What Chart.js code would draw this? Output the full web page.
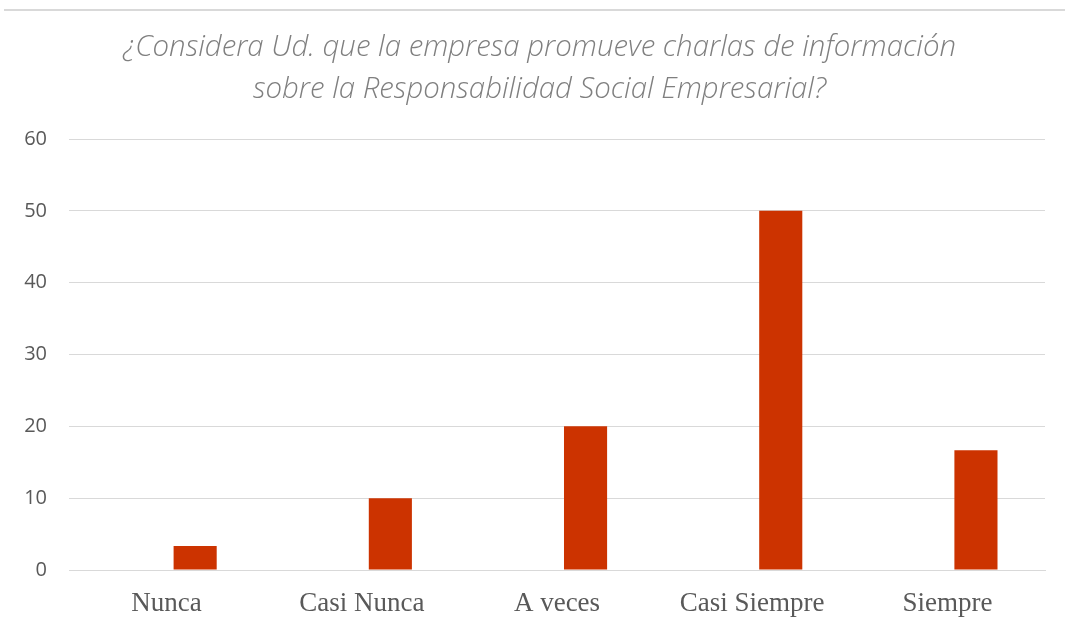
<!DOCTYPE html>
<html>
<head>
<meta charset="utf-8">
<script src="https://cdn.jsdelivr.net/npm/chart.js@4.4.1/dist/chart.umd.min.js"></script>
<style>
  html, body { margin: 0; padding: 0; background: #ffffff; }
  #wrap { position: relative; width: 1065px; height: 632px; }
  #topline { position: absolute; left: 4px; right: 0; top: 9px; height: 0; border-top: 2px solid #d9d9d9; }
  canvas { position: absolute; left: 0; top: 0; }
</style>
</head>
<body>
<div id="wrap">
  <canvas id="c" width="1065" height="632"></canvas>
  <div id="topline"></div>
</div>
<script>
const titleLines = ["¿Considera Ud. que la empresa promueve charlas de información",
                    "sobre la Responsabilidad Social Empresarial?"];
const categories = ["Nunca", "Casi Nunca", "A veces", "Casi Siempre", "Siempre"];
const emptySeries = [null, null, null, null, null];
const percentValues = [3.33, 10, 20, 50, 16.67];
const yMin = 0, yMax = 60, yStep = 10;

const TITLE_LEFT = 34, PLOT_LEFT = 69, PLOT_BOTTOM_SPACE = 62;

const shiftTitle = {
  id: 'shiftTitle',
  afterLayout(chart) {
    if (chart.titleBlock) chart.titleBlock.left = TITLE_LEFT;
  }
};

new Chart(document.getElementById('c'), {
  type: 'bar',
  data: {
    labels: categories,
    datasets: [
      { label: 'Serie 1', data: emptySeries, backgroundColor: 'rgba(0,0,0,0)' },
      { label: 'Porcentaje', data: percentValues, backgroundColor: '#cc3300', borderWidth: 0 }
    ]
  },
  plugins: [shiftTitle],
  options: {
    responsive: false,
    animation: false,
    devicePixelRatio: 1,
    layout: { padding: { left: 0, right: 20, top: 0, bottom: 0 } },
    categoryPercentage: 0.585,
    barPercentage: 0.755,
    plugins: {
      legend: { display: false },
      tooltip: { enabled: false },
      title: {
        display: true,
        text: titleLines,
        color: '#7f7f7f',
        font: { family: 'Open Sans', size: 29.4, style: 'italic', weight: '300', lineHeight: '42px' },
        padding: { top: 27, bottom: 28 }
      }
    },
    scales: {
      x: {
        grid: { display: false, drawTicks: false },
        border: { display: true, color: '#d9d9d9', width: 1 },
        ticks: { color: '#595959', font: { family: 'Liberation Serif', size: 27 }, padding: 18, maxRotation: 0 },
        afterFit: (s) => { s.height = PLOT_BOTTOM_SPACE; }
      },
      y: {
        min: yMin, max: yMax,
        grid: { color: '#d9d9d9', lineWidth: 1, drawTicks: false },
        border: { display: false },
        ticks: { stepSize: yStep, color: '#595959', font: { family: 'Open Sans', size: 20 }, padding: 22 },
        afterFit: (s) => { s.width = PLOT_LEFT; }
      }
    }
  }
});
</script>
</body>
</html>
